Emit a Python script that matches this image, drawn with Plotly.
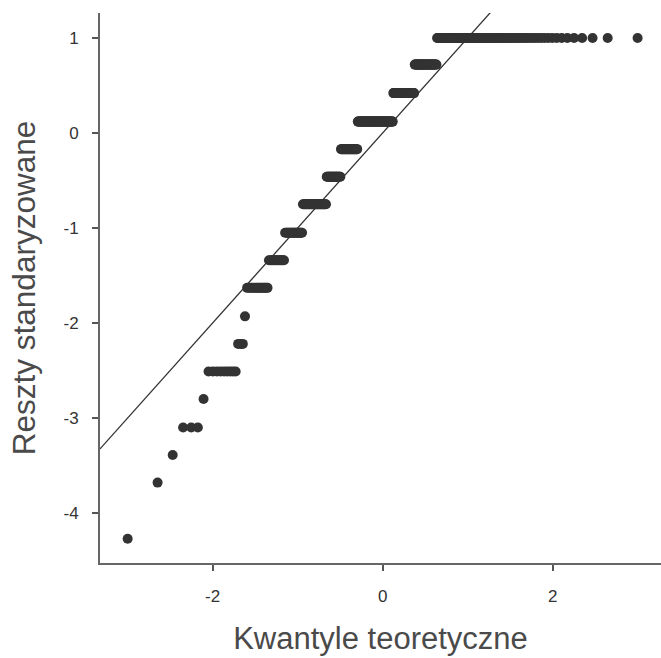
import plotly.graph_objects as go
from statistics import NormalDist

# Standardized residual levels (sorted) and how many observations sit at each level
resid_levels = [-4.27, -3.68, -3.39, -3.10, -2.80, -2.51, -2.22, -1.93, -1.63,
                -1.34, -1.05, -0.75, -0.46, -0.17, 0.12, 0.42, 0.72, 1.00]
resid_counts = [1, 1, 1, 3, 1, 9, 3, 1, 13, 13, 18, 30, 21, 27, 61, 36, 34, 97]

# Reference (qqline) line
line_intercept = 0.0
line_slope = 1.0

x_ticks = [-2, 0, 2]
x_ticktext = ["-2", "0", "2"]
y_ticks = [-4, -3, -2, -1, 0, 1]
y_ticktext = ["-4", "-3", "-2", "-1", "0", "1"]

x_title = "Kwantyle teoretyczne"
y_title = "Reszty standaryzowane"

# Build sorted sample and theoretical normal quantiles (ppoints)
sample = []
for lv, c in zip(resid_levels, resid_counts):
    sample.extend([lv] * c)
n = len(sample)
nd = NormalDist()
theo = [nd.inv_cdf((i + 0.5) / n) for i in range(n)]

x_range = [-3.325, 3.275]
y_range = [-4.526, 1.263]

fig = go.Figure()
fig.add_trace(go.Scatter(
    x=x_range,
    y=[line_intercept + line_slope * v for v in x_range],
    mode="lines",
    line=dict(color="#333333", width=1.3),
    hoverinfo="skip",
    showlegend=False,
))
fig.add_trace(go.Scatter(
    x=theo, y=sample, mode="markers",
    marker=dict(color="#333333", size=10, line=dict(width=0)),
    showlegend=False,
))

font_family = "Liberation Sans, Arial, Helvetica, sans-serif"
fig.update_layout(
    width=661, height=658,
    margin=dict(l=100, r=0, t=13, b=95),
    paper_bgcolor="white", plot_bgcolor="white",
    font=dict(family=font_family, color="#333333"),
)
fig.update_xaxes(
    range=x_range, showgrid=False, zeroline=False,
    showline=True, linecolor="#666666", linewidth=2,
    ticks="outside", ticklen=6, tickwidth=2, tickcolor="#555555",
    tickvals=x_ticks, ticktext=x_ticktext,
    tickfont=dict(size=17, color="#333333"),
    ticklabelstandoff=11,
    title=dict(text=x_title, font=dict(size=31, color="#4a4a4a"), standoff=22),
)
fig.update_yaxes(
    range=y_range, showgrid=False, zeroline=False,
    showline=True, linecolor="#666666", linewidth=2,
    ticks="outside", ticklen=6, tickwidth=2, tickcolor="#555555",
    tickvals=y_ticks, ticktext=y_ticktext,
    tickfont=dict(size=17, color="#333333"),
    ticklabelstandoff=10,
    title=dict(text=y_title, font=dict(size=31.5, color="#4a4a4a"), standoff=18),
)

fig.write_html("out.html")
